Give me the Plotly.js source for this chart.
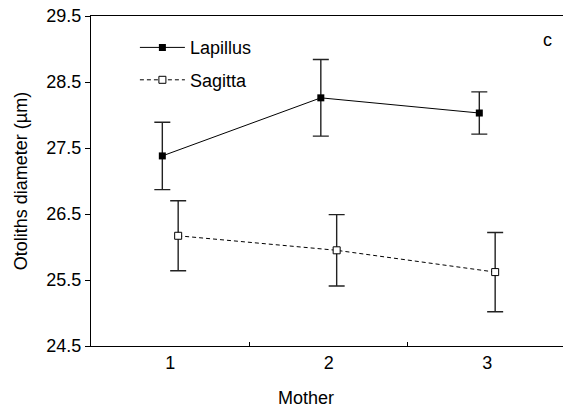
<!DOCTYPE html>
<html>
<head>
<meta charset="utf-8">
<script src="https://cdn.plot.ly/plotly-3.0.1.min.js"></script>
<style>html,body{margin:0;padding:0;background:#fff;}#chart{width:563px;height:415px;}</style>
</head>
<body>
<div id="chart"></div>
<script>
const mothers = [1, 2, 3];
const lapillusMean = [27.38, 28.26, 28.03];
const lapillusErr = [0.51, 0.58, 0.32];
const sagittaMean = [26.17, 25.95, 25.62];
const sagittaErr = [0.53, 0.54, 0.60];
const yTicks = [24.5, 25.5, 26.5, 27.5, 28.5, 29.5];
const dodge = 0.05;

const font = 'Liberation Sans, Arial, sans-serif';
const fs = 18;

const traces = [
  {
    name: 'Lapillus', legendgroup: 'a',
    x: mothers.map(m => m - dodge),
    y: lapillusMean,
    mode: 'lines+markers',
    line: {color: '#000', width: 1},
    marker: {symbol: 'square', size: 7, color: '#000'},
    error_y: {type: 'data', array: lapillusErr, visible: true, color: '#222', thickness: 1.4, width: 8}
  },
  {
    name: 'Sagitta', legendgroup: 'b',
    x: mothers.map(m => m + dodge),
    y: sagittaMean,
    mode: 'lines+markers',
    line: {color: '#000', width: 1, dash: '4px,3px'},
    marker: {symbol: 'square', size: 7, color: '#fff', line: {color: '#000', width: 1}},
    error_y: {type: 'data', array: sagittaErr, visible: true, color: '#222', thickness: 1.4, width: 8}
  }
];

const layout = {
  width: 563, height: 415,
  margin: {l: 91, r: 0, t: 16, b: 69},
  paper_bgcolor: '#fff', plot_bgcolor: '#fff',
  font: {family: font, size: fs, color: '#000'},
  showlegend: true,
  legend: {x: 0.093, y: 0.96, xanchor: 'left', yanchor: 'top', bgcolor: 'rgba(0,0,0,0)',
           font: {family: font, size: fs}, traceorder: 'grouped', tracegroupgap: 6, itemwidth: 45},
  xaxis: {
    range: [0.5, 3.478], tickmode: 'array', tickvals: mothers, ticktext: mothers.map(String),
    ticks: '', showgrid: false, zeroline: false,
    showline: true, linecolor: '#000', linewidth: 1, mirror: true,
    tickfont: {family: font, size: fs},
    minor: {tickmode: 'array', tickvals: [1.5, 2.5], ticks: 'inside', ticklen: 4, tickcolor: '#000', tickwidth: 1, showgrid: false}
  },
  yaxis: {
    range: [24.5, 29.5], tickmode: 'array', tickvals: yTicks, ticktext: yTicks.map(v => v.toFixed(1)),
    ticks: 'outside', ticklen: 5, tickcolor: '#000', tickwidth: 1,
    showgrid: false, zeroline: false, showline: true, linecolor: '#000', linewidth: 1,
    tickfont: {family: font, size: fs},
    title: {text: 'Otoliths diameter (µm)', font: {family: font, size: fs}, standoff: 14}
  },
  annotations: [
    {text: 'Mother', xref: 'paper', yref: 'paper', x: (306 - 91) / 472, y: -0.157, xanchor: 'center', yanchor: 'middle', showarrow: false, font: {family: font, size: fs}},
    {text: 'c', xref: 'paper', yref: 'paper', x: (547 - 91) / 472, y: 1 - (40 - 16) / 330, xanchor: 'center', yanchor: 'middle', showarrow: false, font: {family: font, size: fs}}
  ]
};

Plotly.newPlot('chart', traces, layout, {displayModeBar: false, staticPlot: true});
</script>
</body>
</html>
